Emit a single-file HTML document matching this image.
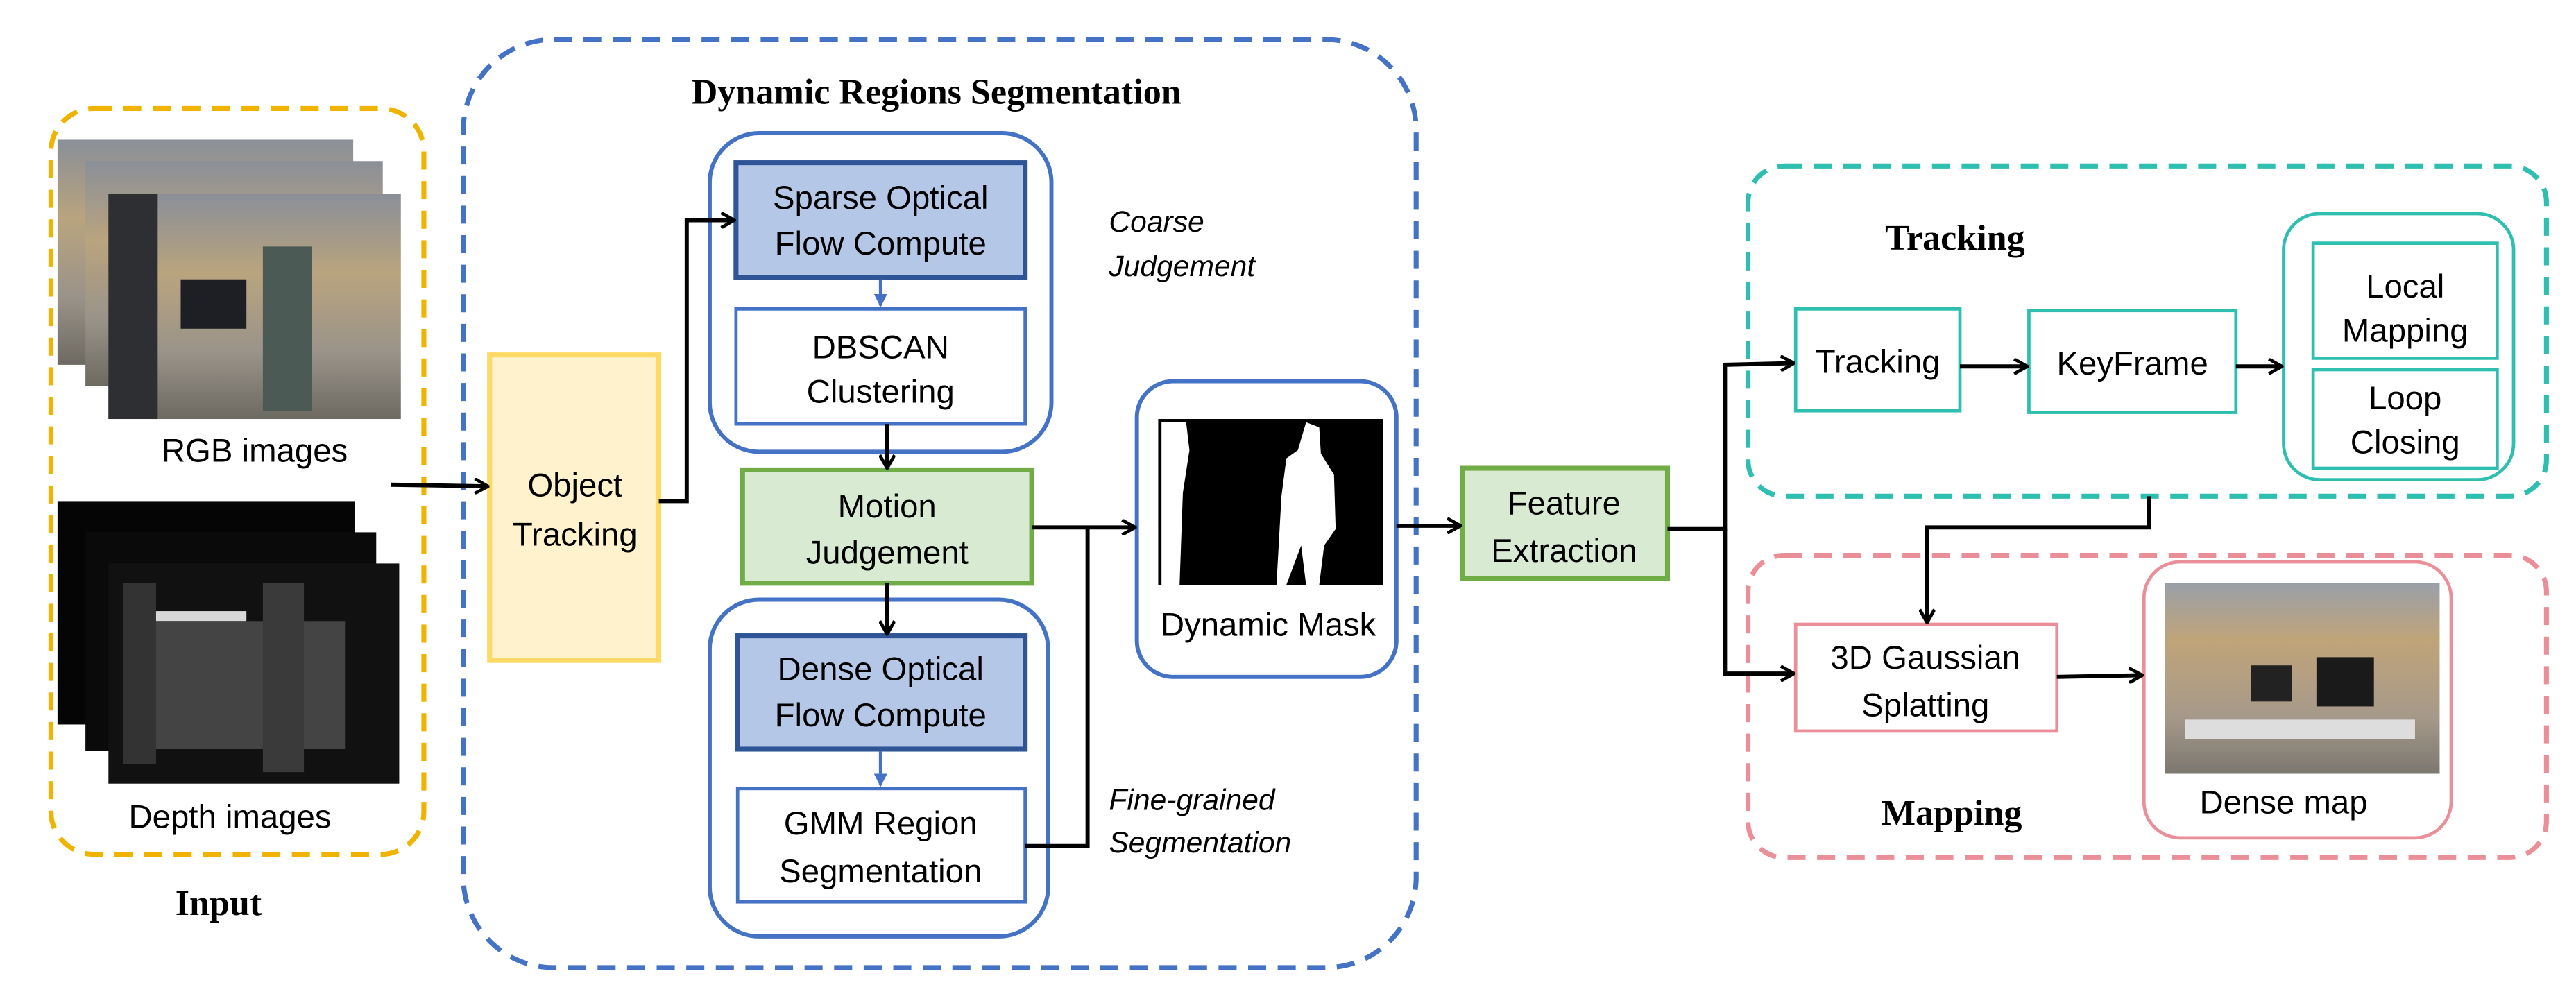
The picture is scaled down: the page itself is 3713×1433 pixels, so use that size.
<!DOCTYPE html>
<html><head><meta charset="utf-8"><style>html,body{margin:0;padding:0;background:#fff}svg{display:block}</style></head>
<body>
<svg width="3713" height="1433" viewBox="0 0 1568 605" xmlns="http://www.w3.org/2000/svg" font-family="Liberation Sans, sans-serif">
<defs>
<marker id="ah" markerWidth="10" markerHeight="10" refX="9" refY="5" orient="auto" markerUnits="userSpaceOnUse"><path d="M1,0.5 L9,5 L1,9.5" fill="none" stroke="#000" stroke-width="2"/></marker>
<marker id="bh" markerWidth="8" markerHeight="8" refX="7" refY="4" orient="auto" markerUnits="userSpaceOnUse"><path d="M0,0 L8,4 L0,8 Z" fill="#4472c4"/></marker>
<linearGradient id="rgb" x1="0" y1="0" x2="0" y2="1"><stop offset="0" stop-color="#8a8f98"/><stop offset="0.35" stop-color="#b9a47e"/><stop offset="0.7" stop-color="#9a9389"/><stop offset="1" stop-color="#6d6a62"/></linearGradient>
<linearGradient id="dm" x1="0" y1="0" x2="0" y2="1"><stop offset="0" stop-color="#9aa0a8"/><stop offset="0.3" stop-color="#c0a479"/><stop offset="0.7" stop-color="#a6998a"/><stop offset="1" stop-color="#7c7870"/></linearGradient>
</defs>

<!-- Input -->
<rect x="31" y="66" width="227" height="454" rx="26" fill="none" stroke="#f0b400" stroke-width="3" stroke-dasharray="11,7"/>
<rect x="35" y="85" width="180" height="137" fill="url(#rgb)"/>
<rect x="52" y="98" width="181" height="137" fill="url(#rgb)"/>
<rect x="66" y="118" width="178" height="137" fill="url(#rgb)"/>
<rect x="66" y="118" width="30" height="137" fill="#2e2f33"/>
<rect x="160" y="150" width="30" height="100" fill="#4b5a55"/>
<rect x="110" y="170" width="40" height="30" fill="#1d1f24"/>
<text x="155" y="281" font-size="20" text-anchor="middle">RGB images</text>
<rect x="35" y="305" width="181" height="136" fill="#050505"/>
<rect x="52" y="324" width="177" height="133" fill="#0a0a0a"/>
<rect x="66" y="343" width="177" height="134" fill="#111"/>
<rect x="90" y="372" width="60" height="6" fill="#d8d8d8"/>
<rect x="90" y="378" width="120" height="78" fill="#444"/>
<rect x="75" y="355" width="20" height="110" fill="#333"/>
<rect x="160" y="355" width="25" height="115" fill="#3a3a3a"/>
<text x="140" y="504" font-size="20" text-anchor="middle">Depth images</text>
<text x="133" y="557" font-size="22" font-weight="bold" text-anchor="middle" font-family="Liberation Serif, serif">Input</text>

<!-- Dynamic Regions Segmentation -->
<rect x="282" y="24" width="580" height="565" rx="55" fill="none" stroke="#4472c4" stroke-width="3" stroke-dasharray="11,7"/>
<text x="570" y="63" font-size="22" font-weight="bold" text-anchor="middle" font-family="Liberation Serif, serif">Dynamic Regions Segmentation</text>

<rect x="298" y="216" width="103" height="186" fill="#fff2cc" stroke="#ffd966" stroke-width="3"/>
<text x="350" y="302" font-size="20" text-anchor="middle">Object</text>
<text x="350" y="332" font-size="20" text-anchor="middle">Tracking</text>

<rect x="432" y="81" width="208" height="194" rx="30" fill="none" stroke="#4472c4" stroke-width="2.5"/>
<rect x="448" y="99" width="176" height="70" fill="#b4c7e7" stroke="#2f5597" stroke-width="3"/>
<text x="536" y="127" font-size="20" text-anchor="middle">Sparse Optical</text>
<text x="536" y="155" font-size="20" text-anchor="middle">Flow Compute</text>
<rect x="448" y="188" width="176" height="70" fill="#fff" stroke="#4472c4" stroke-width="2"/>
<text x="536" y="218" font-size="20" text-anchor="middle">DBSCAN</text>
<text x="536" y="245" font-size="20" text-anchor="middle">Clustering</text>
<line x1="536" y1="170" x2="536" y2="186" stroke="#4472c4" stroke-width="2" marker-end="url(#bh)"/>

<text x="675" y="141" font-size="18" font-style="italic">Coarse</text>
<text x="675" y="168" font-size="18" font-style="italic">Judgement</text>

<rect x="452" y="286" width="176" height="69" fill="#d9ead3" stroke="#70ad47" stroke-width="3"/>
<text x="540" y="315" font-size="20" text-anchor="middle">Motion</text>
<text x="540" y="343" font-size="20" text-anchor="middle">Judgement</text>

<rect x="432" y="365" width="206" height="205" rx="30" fill="none" stroke="#4472c4" stroke-width="2.5"/>
<rect x="449" y="387" width="175" height="69" fill="#b4c7e7" stroke="#2f5597" stroke-width="3"/>
<text x="536" y="414" font-size="20" text-anchor="middle">Dense Optical</text>
<text x="536" y="442" font-size="20" text-anchor="middle">Flow Compute</text>
<rect x="449" y="480" width="175" height="69" fill="#fff" stroke="#4472c4" stroke-width="2"/>
<text x="536" y="508" font-size="20" text-anchor="middle">GMM Region</text>
<text x="536" y="537" font-size="20" text-anchor="middle">Segmentation</text>
<line x1="536" y1="457" x2="536" y2="478" stroke="#4472c4" stroke-width="2" marker-end="url(#bh)"/>

<text x="675" y="493" font-size="18" font-style="italic">Fine-grained</text>
<text x="675" y="519" font-size="18" font-style="italic">Segmentation</text>

<rect x="692" y="232" width="158" height="180" rx="22" fill="none" stroke="#4472c4" stroke-width="2.5"/>
<rect x="705" y="255" width="137" height="101" fill="#000"/>
<path d="M707,257 L722,257 L724,274 L720,300 L718,356 L707,356 Z" fill="#fff"/>
<path d="M795,257 L803,260 L804,276 L812,289 L813,322 L806,332 L803,356 L795,356 L792,332 L783,356 L777,356 L780,302 L783,279 L790,274 Z" fill="#fff"/>
<text x="772" y="387" font-size="20" text-anchor="middle">Dynamic Mask</text>

<!-- Feature extraction -->
<rect x="890" y="285" width="125" height="67" fill="#d9ead3" stroke="#70ad47" stroke-width="3"/>
<text x="952" y="313" font-size="20" text-anchor="middle">Feature</text>
<text x="952" y="342" font-size="20" text-anchor="middle">Extraction</text>

<!-- Tracking group -->
<rect x="1064" y="101" width="486" height="201" rx="22" fill="none" stroke="#2ebfb0" stroke-width="3" stroke-dasharray="11,7"/>
<text x="1190" y="152" font-size="22" font-weight="bold" text-anchor="middle" font-family="Liberation Serif, serif">Tracking</text>
<rect x="1093" y="188" width="100" height="62" fill="#fff" stroke="#2ebfb0" stroke-width="2"/>
<text x="1143" y="227" font-size="20" text-anchor="middle">Tracking</text>
<rect x="1235" y="189" width="126" height="62" fill="#fff" stroke="#2ebfb0" stroke-width="2"/>
<text x="1298" y="228" font-size="20" text-anchor="middle">KeyFrame</text>
<rect x="1390" y="130" width="140" height="162" rx="22" fill="none" stroke="#2ebfb0" stroke-width="2"/>
<rect x="1408" y="148" width="112" height="70" fill="#fff" stroke="#2ebfb0" stroke-width="2"/>
<text x="1464" y="181" font-size="20" text-anchor="middle">Local</text>
<text x="1464" y="208" font-size="20" text-anchor="middle">Mapping</text>
<rect x="1408" y="225" width="112" height="60" fill="#fff" stroke="#2ebfb0" stroke-width="2"/>
<text x="1464" y="249" font-size="20" text-anchor="middle">Loop</text>
<text x="1464" y="276" font-size="20" text-anchor="middle">Closing</text>

<!-- Mapping group -->
<rect x="1064" y="338" width="486" height="184" rx="22" fill="none" stroke="#ea8f98" stroke-width="3" stroke-dasharray="11,7"/>
<rect x="1093" y="380" width="159" height="65" fill="#fff" stroke="#ea8f98" stroke-width="2"/>
<text x="1172" y="407" font-size="20" text-anchor="middle">3D Gaussian</text>
<text x="1172" y="436" font-size="20" text-anchor="middle">Splatting</text>
<rect x="1305" y="342" width="187" height="168" rx="22" fill="none" stroke="#ea8f98" stroke-width="2"/>
<rect x="1318" y="355" width="167" height="116" fill="url(#dm)"/>
<rect x="1370" y="405" width="25" height="22" fill="#222"/>
<rect x="1410" y="400" width="35" height="30" fill="#1a1a1a"/>
<rect x="1330" y="438" width="140" height="12" fill="#ddd"/>
<text x="1390" y="495" font-size="20" text-anchor="middle">Dense map</text>
<text x="1188" y="502" font-size="22" font-weight="bold" text-anchor="middle" font-family="Liberation Serif, serif">Mapping</text>

<!-- connectors -->
<g fill="none" stroke="#000" stroke-width="2.5">
<path d="M238,295 L297,296" marker-end="url(#ah)"/>
<path d="M401,305 L418,305 L418,134 L447,134" marker-end="url(#ah)"/>
<path d="M540,258 L540,285" marker-end="url(#ah)"/>
<path d="M540,355 L540,386" marker-end="url(#ah)"/>
<path d="M628,321 L691,321" marker-end="url(#ah)"/>
<path d="M624,515 L662,515 L662,321"/>
<path d="M850,320 L889,320" marker-end="url(#ah)"/>
<path d="M1015,322 L1050,322 L1050,222 L1092,221" marker-end="url(#ah)"/>
<path d="M1050,322 L1050,410 L1092,410" marker-end="url(#ah)"/>
<path d="M1193,223 L1234,223" marker-end="url(#ah)"/>
<path d="M1361,223 L1389,223" marker-end="url(#ah)"/>
<path d="M1308,302 L1308,321 L1173,321 L1173,379" marker-end="url(#ah)"/>
<path d="M1252,412 L1304,411" marker-end="url(#ah)"/>
</g>
</svg>
</body></html>
